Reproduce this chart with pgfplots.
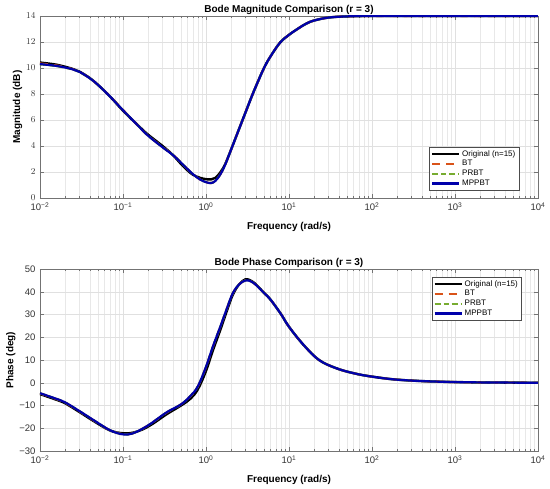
\documentclass[border=0pt]{standalone}
\usepackage{pgfplots}
\pgfplotsset{compat=1.18}
\usepackage{pgfplotstable}
\usepackage{fontspec}
\setmainfont{Liberation Sans}
\definecolor{cOrig}{rgb}{0,0,0}
\definecolor{cBT}{rgb}{0.85,0.325,0.098}
\definecolor{cPRBT}{rgb}{0.466,0.674,0.188}
\definecolor{cMP}{rgb}{0,0,0.67}
\definecolor{axgray}{rgb}{0.45,0.45,0.45}

% magnitude (dB)
\pgfplotstableread{
f orig bt prbt mp
0.01 10.42 10.35 10.28 10.30
0.015 10.28 10.22 10.16 10.18
0.02 10.10 10.06 10.02 10.04
0.025 9.92 9.90 9.88 9.89
0.03 9.72 9.70 9.68 9.70
0.04 9.22 9.20 9.20 9.20
0.05 8.70 8.70 8.70 8.70
0.07 7.80 7.82 7.80 7.80
0.1 6.72 6.78 6.76 6.75
0.15 5.62 5.60 5.60 5.60
0.2 4.88 4.80 4.80 4.80
0.3 4.00 3.92 3.90 3.90
0.4 3.30 3.32 3.32 3.30
0.5 2.62 2.72 2.72 2.72
0.6 2.12 2.22 2.22 2.22
0.7 1.78 1.82 1.82 1.82
0.85 1.55 1.42 1.42 1.42
1.0 1.45 1.22 1.22 1.22
1.15 1.43 1.15 1.15 1.15
1.3 1.55 1.32 1.32 1.32
1.5 2.00 1.85 1.85 1.85
1.7 2.60 2.55 2.55 2.55
2.0 3.70 3.70 3.70 3.70
2.5 5.30 5.30 5.30 5.30
3.0 6.60 6.60 6.60 6.60
3.5 7.70 7.70 7.70 7.70
4.0 8.60 8.60 8.60 8.60
5.0 10.00 10.00 10.00 10.00
6.0 10.90 10.90 10.90 10.90
7.8 11.95 11.95 11.95 11.95
10 12.55 12.55 12.55 12.55
13 13.05 13.05 13.05 13.05
16 13.40 13.40 13.40 13.40
20 13.65 13.65 13.65 13.65
30 13.88 13.88 13.88 13.88
50 13.97 13.97 13.97 13.97
100 14.00 14.00 14.00 14.00
1000 14.00 14.00 14.00 14.00
10000 14.00 14.00 14.00 14.00
}\magtable

% phase (deg)
\pgfplotstableread{
f orig bt prbt mp
0.01 -5.0 -4.7 -4.6 -4.6
0.015 -7.2 -6.9 -6.8 -6.8
0.02 -9.0 -8.7 -8.6 -8.6
0.03 -12.9 -12.6 -12.5 -12.5
0.045 -17.0 -16.7 -16.6 -16.6
0.07 -21.0 -20.9 -20.9 -20.9
0.1 -22.2 -22.6 -22.7 -22.7
0.13 -22.0 -22.3 -22.3 -22.3
0.17 -20.6 -20.3 -20.3 -20.3
0.22 -18.4 -17.8 -17.8 -17.8
0.28 -15.8 -15.1 -15.0 -15.0
0.35 -13.4 -12.7 -12.6 -12.6
0.5 -10.0 -9.5 -9.5 -9.5
0.65 -7.0 -5.9 -5.8 -5.8
0.8 -2.8 -1.6 -1.5 -1.5
1.0 5.2 6.9 7.0 7.0
1.2 13.8 15.4 15.5 15.5
1.5 23.6 25.0 25.0 25.0
1.8 32.0 33.0 33.0 33.0
2.1 38.6 39.3 39.3 39.3
2.5 43.2 43.2 43.2 43.2
3.0 45.5 45.0 45.0 45.0
3.5 44.8 44.5 44.5 44.5
4.0 43.2 43.0 43.0 43.0
5 39.5 39.5 39.5 39.5
6 36.5 36.5 36.5 36.5
8 30.2 30.2 30.2 30.2
10 24.6 24.6 24.6 24.6
15 16.6 16.6 16.6 16.6
23 10.0 10.0 10.0 10.0
37 6.4 6.4 6.4 6.4
60 4.2 4.2 4.2 4.2
100 2.7 2.7 2.7 2.7
230 1.2 1.2 1.2 1.2
1000 0.3 0.3 0.3 0.3
10000 0.0 0.0 0.0 0.0
}\phasetable

\pgfplotsset{
  legend image code/.code={\draw[#1] (0pt,0pt) -- (27pt,0pt);},
  bodestyle/.style={
    scale only axis,
    width=498pt, height=182pt,
    xmin=1e-2, xmax=1e4,
    xtick={1e-2,1e-1,1e0,1e1,1e2,1e3,1e4},
    xticklabels={10\textsuperscript{−2},10\textsuperscript{−1},10\textsuperscript{0},10\textsuperscript{1},10\textsuperscript{2},10\textsuperscript{3},10\textsuperscript{4}},
    grid=both,
    major grid style={draw=black!12, line width=0.4pt},
    minor grid style={draw=black!9, line width=0.4pt},
    axis line style={draw=axgray, line width=0.5pt},
    tick style={draw=axgray, line width=0.5pt},
    tick align=inside,
    major tick length=4pt,
    minor tick length=2.2pt,
    xtick pos=both, ytick pos=both,
    ticklabel style={font=\fontsize{9.5}{10}\selectfont, text=black!80},
    xticklabel style={yshift=-1pt},
    yticklabel style={xshift=-1pt},
    title style={font=\bfseries\fontsize{10}{12}\selectfont, yshift=-8.5pt},
    xlabel style={font=\bfseries\fontsize{10}{12}\selectfont, yshift=-4pt},
    ylabel style={font=\bfseries\fontsize{10}{12}\selectfont, yshift=-3pt},
    xlabel={Frequency (rad/s)},
    legend cell align=left,
    legend style={font=\fontsize{8}{9}\selectfont, draw=black!70, line width=0.4pt, fill=white,
      inner sep=1.5pt, row sep=-1.2pt},
  },
  origline/.style={draw=cOrig, line width=2.4pt, smooth, tension=0.6},
  btline/.style={draw=cBT, line width=2.1pt, dash pattern=on 8pt off 6pt, smooth, tension=0.6},
  prline/.style={draw=cPRBT, line width=2.1pt, dash pattern=on 6pt off 3pt on 5pt off 3pt, smooth, tension=0.6},
  mpline/.style={draw=cMP, line width=2.2pt, smooth, tension=0.6},
}

\begin{document}
\begin{tikzpicture}
\useasboundingbox (0,0) rectangle (550pt,-489pt);
\begin{axis}[xmode=log, bodestyle,
  at={(40pt,-198pt)}, anchor=south west,
  ymin=0, ymax=14, ytick={0,2,...,14},
  ylabel={Magnitude (dB)},
  title={Bode Magnitude Comparison (r = 3)},
  legend style={at={(0.962,0.04)}, anchor=south east},
]
\addplot[origline] table[x=f, y=orig] {\magtable};
\addplot[btline] table[x=f, y=bt] {\magtable};
\addplot[prline] table[x=f, y=prbt] {\magtable};
\addplot[mpline] table[x=f, y=mp] {\magtable};
\legend{Original (n=15), BT, PRBT, MPPBT}
\end{axis}
\begin{axis}[xmode=log, bodestyle,
  at={(40pt,-451pt)}, anchor=south west,
  ymin=-30, ymax=50, ytick={-30,-20,...,50},
  yticklabels={−30,−20,−10,0,10,20,30,40,50},
  ylabel={Phase (deg)},
  title={Bode Phase Comparison (r = 3)},
  legend style={at={(0.967,0.958)}, anchor=north east},
]
\addplot[origline] table[x=f, y=orig] {\phasetable};
\addplot[btline] table[x=f, y=bt] {\phasetable};
\addplot[prline] table[x=f, y=prbt] {\phasetable};
\addplot[mpline] table[x=f, y=mp] {\phasetable};
\legend{Original (n=15), BT, PRBT, MPPBT}
\end{axis}
\end{tikzpicture}
\end{document}
